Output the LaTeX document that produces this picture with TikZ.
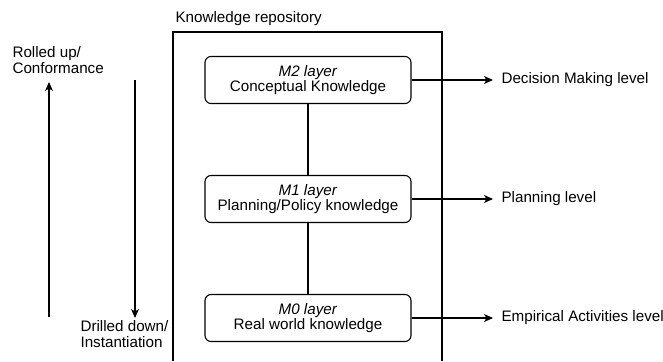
\documentclass[tikz,border=0pt]{standalone}
\usepackage{fontspec}
\setmainfont{Liberation Sans}
\usetikzlibrary{arrows.meta}
\begin{document}
\begin{tikzpicture}[x=1pt,y=-1pt,
  line width=1.1pt,
  every node/.style={font=\fontsize{15.2}{15.5}\selectfont},
  layer/.style={draw, rounded corners=6pt, minimum width=206pt, minimum height=47pt, align=center, inner sep=0pt},
  txt/.style={align=left, inner sep=0pt},
  arr/.style={-{Stealth[length=9pt,width=8pt,inset=2.5pt]}},
  lvl/.style={anchor=west, inner xsep=8pt, inner ysep=0pt}]
\useasboundingbox (0,0) rectangle (663,361);
% repository frame
\draw (173,361) -- (173,32) -- (442,32) -- (442,361);
\node[anchor=south west, inner sep=0pt] (repo) at (175,26) {Knowledge repository};
% layers
\node[layer] (m2) at (308,80) {\textit{M2 layer}\\Conceptual Knowledge};
\node[layer] (m1) at (308,199) {\textit{M1 layer}\\Planning/Policy knowledge};
\node[layer] (m0) at (308,318) {\textit{M0 layer}\\Real world knowledge};
\draw (m2) -- (m1);
\draw (m1) -- (m0);
% levels
\node[lvl] (l2) at (493,80) {Decision Making level};
\node[lvl] (l1) at (493,199) {Planning level};
\node[lvl] (l0) at (493,318) {Empirical Activities level};
\draw[arr] (m2.east) -- (l2.west);
\draw[arr] (m1.east) -- (l1.west);
\draw[arr] (m0.east) -- (l0.west);
% left arrows
\node[txt, anchor=north west] (up) at (12,46) {Rolled up/\\Conformance};
\coordinate (upstart) at (49,317);
\coordinate (uptip) at (49,82);
\draw[arr] (upstart) -- (uptip);
\node[txt, anchor=north west] (down) at (80,320) {Drilled down/\\Instantiation};
\coordinate (downstart) at (135,80);
\coordinate (downtip) at (135,318);
\draw[arr] (downstart) -- (downtip);
\end{tikzpicture}
\end{document}
